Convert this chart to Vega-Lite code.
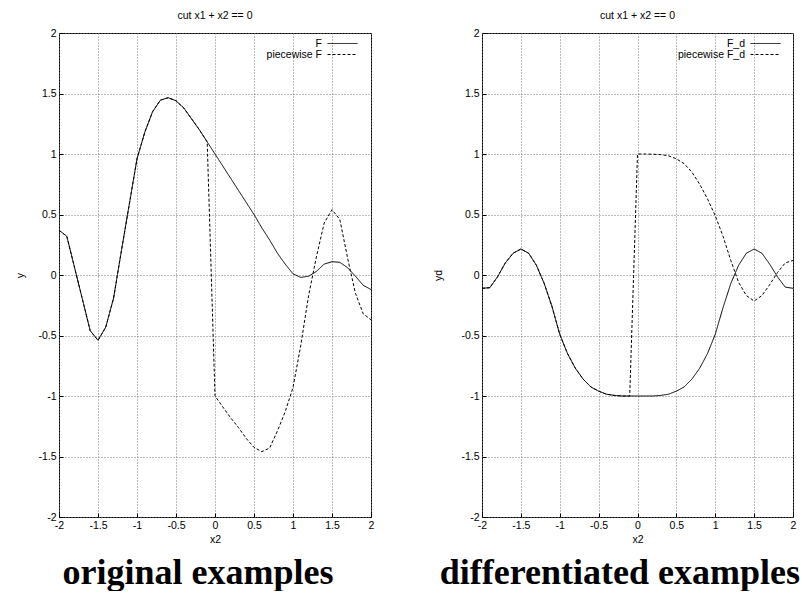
{
  "$schema": "https://vega.github.io/schema/vega-lite/v6.json",
  "background": "white",
  "padding": {"left": 15, "top": 10, "right": 0, "bottom": 0},
  "spacing": 58,
  "config": {
    "font": "Liberation Sans",
    "view": {"stroke": "black", "strokeWidth": 1},
    "axis": {
      "labelFont": "Liberation Sans", "labelFontSize": 10.5, "labelColor": "black",
      "titleFont": "Liberation Sans", "titleFontSize": 10.5, "titleFontWeight": "normal", "titleColor": "black",
      "domain": false, "grid": true, "gridColor": "#777777", "gridDash": [1, 2], "gridWidth": 1, "gridOpacity": 1,
      "tickColor": "black", "tickSize": -4, "labelPadding": 7, "labelFlush": false, "labelOverlap": false,
      "labelExpr": "'' + datum.value"
    },
    "legend": {
      "title": null, "orient": "none", "legendX": 278, "legendY": 5,
      "symbolType": "M-3,0H3", "symbolSize": 100, "symbolStrokeWidth": 1, "symbolStrokeColor": "black",
      "rowPadding": -2, "labelAlign": "right", "labelOffset": -26,
      "labelFontSize": 10.5, "labelFont": "Liberation Sans", "labelColor": "black", "padding": 0
    }
  },
  "datasets": {
    "orig": [
      {"x2": -2.0, "y": 0.37, "s": "F"}, {"x2": -1.9, "y": 0.32, "s": "F"}, {"x2": -1.8, "y": 0.06, "s": "F"},
      {"x2": -1.7, "y": -0.2, "s": "F"}, {"x2": -1.6, "y": -0.46, "s": "F"}, {"x2": -1.5, "y": -0.54, "s": "F"},
      {"x2": -1.4, "y": -0.43, "s": "F"}, {"x2": -1.3, "y": -0.19, "s": "F"}, {"x2": -1.2, "y": 0.2, "s": "F"},
      {"x2": -1.1, "y": 0.58, "s": "F"}, {"x2": -1.0, "y": 0.96, "s": "F"}, {"x2": -0.9, "y": 1.18, "s": "F"},
      {"x2": -0.8, "y": 1.35, "s": "F"}, {"x2": -0.7, "y": 1.445, "s": "F"}, {"x2": -0.6, "y": 1.465, "s": "F"},
      {"x2": -0.5, "y": 1.44, "s": "F"}, {"x2": -0.4, "y": 1.38, "s": "F"}, {"x2": -0.3, "y": 1.29, "s": "F"},
      {"x2": -0.2, "y": 1.2, "s": "F"}, {"x2": -0.1, "y": 1.1, "s": "F"}, {"x2": 0.0, "y": 1.0, "s": "F"},
      {"x2": 0.1, "y": 0.9, "s": "F"}, {"x2": 0.2, "y": 0.8, "s": "F"}, {"x2": 0.3, "y": 0.7, "s": "F"},
      {"x2": 0.4, "y": 0.6, "s": "F"}, {"x2": 0.5, "y": 0.5, "s": "F"}, {"x2": 0.6, "y": 0.39, "s": "F"},
      {"x2": 0.7, "y": 0.29, "s": "F"}, {"x2": 0.8, "y": 0.18, "s": "F"}, {"x2": 0.9, "y": 0.09, "s": "F"},
      {"x2": 1.0, "y": 0.01, "s": "F"}, {"x2": 1.1, "y": -0.02, "s": "F"}, {"x2": 1.2, "y": -0.01, "s": "F"},
      {"x2": 1.3, "y": 0.03, "s": "F"}, {"x2": 1.4, "y": 0.09, "s": "F"}, {"x2": 1.5, "y": 0.11, "s": "F"},
      {"x2": 1.6, "y": 0.105, "s": "F"}, {"x2": 1.7, "y": 0.06, "s": "F"}, {"x2": 1.8, "y": -0.01, "s": "F"},
      {"x2": 1.9, "y": -0.085, "s": "F"}, {"x2": 2.0, "y": -0.12, "s": "F"},
      {"x2": -2.0, "y": 0.37, "s": "piecewise F"}, {"x2": -1.9, "y": 0.32, "s": "piecewise F"}, {"x2": -1.8, "y": 0.06, "s": "piecewise F"},
      {"x2": -1.7, "y": -0.2, "s": "piecewise F"}, {"x2": -1.6, "y": -0.46, "s": "piecewise F"}, {"x2": -1.5, "y": -0.54, "s": "piecewise F"},
      {"x2": -1.4, "y": -0.43, "s": "piecewise F"}, {"x2": -1.3, "y": -0.19, "s": "piecewise F"}, {"x2": -1.2, "y": 0.2, "s": "piecewise F"},
      {"x2": -1.1, "y": 0.58, "s": "piecewise F"}, {"x2": -1.0, "y": 0.96, "s": "piecewise F"}, {"x2": -0.9, "y": 1.18, "s": "piecewise F"},
      {"x2": -0.8, "y": 1.35, "s": "piecewise F"}, {"x2": -0.7, "y": 1.445, "s": "piecewise F"}, {"x2": -0.6, "y": 1.465, "s": "piecewise F"},
      {"x2": -0.5, "y": 1.44, "s": "piecewise F"}, {"x2": -0.4, "y": 1.38, "s": "piecewise F"}, {"x2": -0.3, "y": 1.29, "s": "piecewise F"},
      {"x2": -0.2, "y": 1.2, "s": "piecewise F"}, {"x2": -0.1, "y": 1.1, "s": "piecewise F"}, {"x2": 0.0, "y": -1.0, "s": "piecewise F"},
      {"x2": 0.1, "y": -1.09, "s": "piecewise F"}, {"x2": 0.2, "y": -1.18, "s": "piecewise F"}, {"x2": 0.3, "y": -1.26, "s": "piecewise F"},
      {"x2": 0.4, "y": -1.35, "s": "piecewise F"}, {"x2": 0.5, "y": -1.425, "s": "piecewise F"}, {"x2": 0.6, "y": -1.46, "s": "piecewise F"},
      {"x2": 0.7, "y": -1.43, "s": "piecewise F"}, {"x2": 0.8, "y": -1.29, "s": "piecewise F"}, {"x2": 0.9, "y": -1.13, "s": "piecewise F"},
      {"x2": 1.0, "y": -0.93, "s": "piecewise F"}, {"x2": 1.1, "y": -0.58, "s": "piecewise F"}, {"x2": 1.2, "y": -0.17, "s": "piecewise F"},
      {"x2": 1.3, "y": 0.15, "s": "piecewise F"}, {"x2": 1.4, "y": 0.43, "s": "piecewise F"}, {"x2": 1.5, "y": 0.54, "s": "piecewise F"},
      {"x2": 1.6, "y": 0.46, "s": "piecewise F"}, {"x2": 1.7, "y": 0.14, "s": "piecewise F"}, {"x2": 1.8, "y": -0.15, "s": "piecewise F"},
      {"x2": 1.9, "y": -0.32, "s": "piecewise F"}, {"x2": 2.0, "y": -0.37, "s": "piecewise F"}
    ],
    "diff": [
      {"x2": -2.0, "y": -0.11, "s": "F_d"}, {"x2": -1.9, "y": -0.105, "s": "F_d"}, {"x2": -1.8, "y": -0.015, "s": "F_d"},
      {"x2": -1.7, "y": 0.1, "s": "F_d"}, {"x2": -1.6, "y": 0.18, "s": "F_d"}, {"x2": -1.5, "y": 0.215, "s": "F_d"},
      {"x2": -1.4, "y": 0.18, "s": "F_d"}, {"x2": -1.3, "y": 0.08, "s": "F_d"}, {"x2": -1.2, "y": -0.07, "s": "F_d"},
      {"x2": -1.1, "y": -0.26, "s": "F_d"}, {"x2": -1.0, "y": -0.49, "s": "F_d"}, {"x2": -0.9, "y": -0.65, "s": "F_d"},
      {"x2": -0.8, "y": -0.77, "s": "F_d"}, {"x2": -0.7, "y": -0.86, "s": "F_d"}, {"x2": -0.6, "y": -0.925, "s": "F_d"},
      {"x2": -0.5, "y": -0.96, "s": "F_d"}, {"x2": -0.4, "y": -0.985, "s": "F_d"}, {"x2": -0.3, "y": -0.995, "s": "F_d"},
      {"x2": -0.2, "y": -1.0, "s": "F_d"}, {"x2": -0.1, "y": -1.0, "s": "F_d"}, {"x2": 0.0, "y": -1.0, "s": "F_d"},
      {"x2": 0.1, "y": -1.0, "s": "F_d"}, {"x2": 0.2, "y": -1.0, "s": "F_d"}, {"x2": 0.3, "y": -0.995, "s": "F_d"},
      {"x2": 0.4, "y": -0.985, "s": "F_d"}, {"x2": 0.5, "y": -0.96, "s": "F_d"}, {"x2": 0.6, "y": -0.925, "s": "F_d"},
      {"x2": 0.7, "y": -0.86, "s": "F_d"}, {"x2": 0.8, "y": -0.77, "s": "F_d"}, {"x2": 0.9, "y": -0.65, "s": "F_d"},
      {"x2": 1.0, "y": -0.49, "s": "F_d"}, {"x2": 1.1, "y": -0.27, "s": "F_d"}, {"x2": 1.2, "y": -0.07, "s": "F_d"},
      {"x2": 1.3, "y": 0.08, "s": "F_d"}, {"x2": 1.4, "y": 0.18, "s": "F_d"}, {"x2": 1.5, "y": 0.215, "s": "F_d"},
      {"x2": 1.6, "y": 0.18, "s": "F_d"}, {"x2": 1.7, "y": 0.09, "s": "F_d"}, {"x2": 1.8, "y": -0.015, "s": "F_d"},
      {"x2": 1.9, "y": -0.1, "s": "F_d"}, {"x2": 2.0, "y": -0.11, "s": "F_d"},
      {"x2": -2.0, "y": -0.11, "s": "piecewise F_d"}, {"x2": -1.9, "y": -0.105, "s": "piecewise F_d"}, {"x2": -1.8, "y": -0.015, "s": "piecewise F_d"},
      {"x2": -1.7, "y": 0.1, "s": "piecewise F_d"}, {"x2": -1.6, "y": 0.18, "s": "piecewise F_d"}, {"x2": -1.5, "y": 0.215, "s": "piecewise F_d"},
      {"x2": -1.4, "y": 0.18, "s": "piecewise F_d"}, {"x2": -1.3, "y": 0.08, "s": "piecewise F_d"}, {"x2": -1.2, "y": -0.07, "s": "piecewise F_d"},
      {"x2": -1.1, "y": -0.26, "s": "piecewise F_d"}, {"x2": -1.0, "y": -0.49, "s": "piecewise F_d"}, {"x2": -0.9, "y": -0.65, "s": "piecewise F_d"},
      {"x2": -0.8, "y": -0.77, "s": "piecewise F_d"}, {"x2": -0.7, "y": -0.86, "s": "piecewise F_d"}, {"x2": -0.6, "y": -0.925, "s": "piecewise F_d"},
      {"x2": -0.5, "y": -0.96, "s": "piecewise F_d"}, {"x2": -0.4, "y": -0.985, "s": "piecewise F_d"}, {"x2": -0.3, "y": -0.995, "s": "piecewise F_d"},
      {"x2": -0.2, "y": -1.0, "s": "piecewise F_d"}, {"x2": -0.1, "y": -1.0, "s": "piecewise F_d"}, {"x2": 0.0, "y": 1.0, "s": "piecewise F_d"},
      {"x2": 0.1, "y": 1.0, "s": "piecewise F_d"}, {"x2": 0.2, "y": 0.998, "s": "piecewise F_d"}, {"x2": 0.3, "y": 0.995, "s": "piecewise F_d"},
      {"x2": 0.4, "y": 0.985, "s": "piecewise F_d"}, {"x2": 0.5, "y": 0.96, "s": "piecewise F_d"}, {"x2": 0.6, "y": 0.92, "s": "piecewise F_d"},
      {"x2": 0.7, "y": 0.85, "s": "piecewise F_d"}, {"x2": 0.8, "y": 0.75, "s": "piecewise F_d"}, {"x2": 0.9, "y": 0.63, "s": "piecewise F_d"},
      {"x2": 1.0, "y": 0.49, "s": "piecewise F_d"}, {"x2": 1.1, "y": 0.32, "s": "piecewise F_d"}, {"x2": 1.2, "y": 0.12, "s": "piecewise F_d"},
      {"x2": 1.3, "y": -0.06, "s": "piecewise F_d"}, {"x2": 1.4, "y": -0.17, "s": "piecewise F_d"}, {"x2": 1.5, "y": -0.215, "s": "piecewise F_d"},
      {"x2": 1.6, "y": -0.17, "s": "piecewise F_d"}, {"x2": 1.7, "y": -0.08, "s": "piecewise F_d"}, {"x2": 1.8, "y": 0.02, "s": "piecewise F_d"},
      {"x2": 1.9, "y": 0.1, "s": "piecewise F_d"}, {"x2": 2.0, "y": 0.12, "s": "piecewise F_d"}
    ]
  },
  "hconcat": [
    {
      "title": {"text": "original examples", "orient": "bottom", "anchor": "middle", "font": "Liberation Serif", "fontSize": 36, "fontWeight": "bold", "color": "black", "offset": 10, "dx": 3},
      "vconcat": [
        {
          "width": 312, "height": 484,
          "title": {"text": "cut x1 + x2 == 0", "anchor": "middle", "font": "Liberation Sans", "fontSize": 10.5, "fontWeight": "normal", "color": "black", "offset": 7},
          "data": {"name": "orig"},
          "mark": {"type": "line", "color": "black", "strokeWidth": 1},
          "encoding": {
            "x": {"field": "x2", "type": "quantitative", "scale": {"domain": [-2, 2], "nice": false, "zero": false}, "axis": {"values": [-2, -1.5, -1, -0.5, 0, 0.5, 1, 1.5, 2], "title": "x2"}},
            "y": {"field": "y", "type": "quantitative", "scale": {"domain": [-2, 2], "nice": false, "zero": false}, "axis": {"values": [-2, -1.5, -1, -0.5, 0, 0.5, 1, 1.5, 2], "title": "y", "titlePadding": 12}},
            "strokeDash": {"field": "s", "type": "nominal", "scale": {"domain": ["F", "piecewise F"], "range": [[1, 0], [3, 2]]}}
          }
        }
      ]
    },
    {
      "title": {"text": "differentiated examples", "orient": "bottom", "anchor": "middle", "font": "Liberation Serif", "fontSize": 36, "fontWeight": "bold", "color": "black", "offset": 10, "dx": 5},
      "vconcat": [
        {
          "width": 311, "height": 484,
          "title": {"text": "cut x1 + x2 == 0", "anchor": "middle", "font": "Liberation Sans", "fontSize": 10.5, "fontWeight": "normal", "color": "black", "offset": 7},
          "data": {"name": "diff"},
          "mark": {"type": "line", "color": "black", "strokeWidth": 1},
          "encoding": {
            "x": {"field": "x2", "type": "quantitative", "scale": {"domain": [-2, 2], "nice": false, "zero": false}, "axis": {"values": [-2, -1.5, -1, -0.5, 0, 0.5, 1, 1.5, 2], "title": "x2"}},
            "y": {"field": "y", "type": "quantitative", "scale": {"domain": [-2, 2], "nice": false, "zero": false}, "axis": {"values": [-2, -1.5, -1, -0.5, 0, 0.5, 1, 1.5, 2], "title": "yd", "titlePadding": 17}},
            "strokeDash": {"field": "s", "type": "nominal", "scale": {"domain": ["F_d", "piecewise F_d"], "range": [[1, 0], [3, 2]]}}
          }
        }
      ]
    }
  ],
  "resolve": {"scale": {"strokeDash": "independent", "x": "independent", "y": "independent"}, "legend": {"strokeDash": "independent"}}
}
